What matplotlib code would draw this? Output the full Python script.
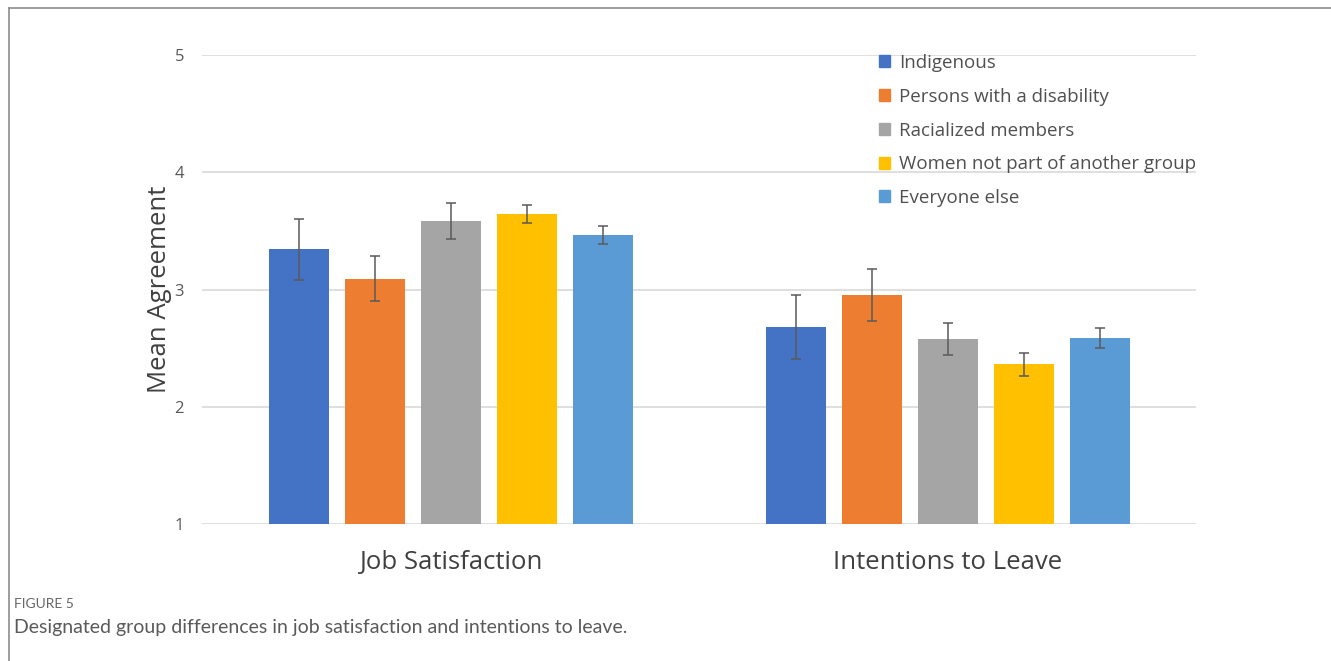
import matplotlib.pyplot as plt
import numpy as np
from matplotlib.patches import Rectangle
from matplotlib.lines import Line2D

plt.rcParams["font.family"] = ["Open Sans", "DejaVu Sans"]

categories = ["Job Satisfaction", "Intentions to Leave"]
groups = [
    "Indigenous",
    "Persons with a disability",
    "Racialized members",
    "Women not part of another group",
    "Everyone else",
]
colors = ["#4472C4", "#ED7D31", "#A5A5A5", "#FFC000", "#5B9BD5"]

# mean agreement per group, one value per category
means = {
    "Indigenous": [3.345, 2.678],
    "Persons with a disability": [3.092, 2.956],
    "Racialized members": [3.584, 2.575],
    "Women not part of another group": [3.644, 2.362],
    "Everyone else": [3.462, 2.584],
}
errors = {
    "Indigenous": [0.26, 0.275],
    "Persons with a disability": [0.19, 0.223],
    "Racialized members": [0.15, 0.137],
    "Women not part of another group": [0.077, 0.097],
    "Everyone else": [0.077, 0.085],
}

W, H = 1331, 661
fig = plt.figure(figsize=(W / 100, H / 100), dpi=100)
ax = fig.add_axes([202 / W, 1 - 524 / H, (1196 - 202) / W, (524 - 55) / H])

x = np.arange(len(categories))
step = 76 / 497
width = 60 / 497
for i, g in enumerate(groups):
    xs = x + (i - 2) * step
    # bars start at the axis floor (1)
    vals = np.array(means[g])
    ax.bar(xs, vals - 1, bottom=1, width=width, color=colors[i], label=g, zorder=2)
    ax.errorbar(xs, vals, yerr=errors[g], fmt="none", ecolor="#5a5a5a",
                elinewidth=1.1, capsize=3.5, capthick=1.1, zorder=3)

ax.set_xlim(-0.5, 1.5)
ax.set_ylim(1, 5)
ax.set_yticks([1, 2, 3, 4, 5])
ax.yaxis.grid(True, color="#d9d9d9", linewidth=1.2)
ax.set_axisbelow(True)
for s in ax.spines.values():
    s.set_visible(False)
ax.tick_params(axis="y", length=0, pad=13, labelsize=12, labelcolor="#595959")
ax.tick_params(axis="x", length=0, pad=19, labelsize=18.5, labelcolor="#404040")
ax.set_xticks(x)
ax.set_xticklabels(categories)
ax.set_ylabel("Mean Agreement", fontsize=18.5, color="#404040", labelpad=2)

handles = [Rectangle((0, 0), 1, 1, color=c) for c in colors]
ax.legend(handles, groups, loc="upper left", bbox_to_anchor=(879 / W, 1 - 54 / H),
          bbox_transform=fig.transFigure, frameon=False, fontsize=13.5,
          handlelength=0.6, handleheight=0.6, handletextpad=0.45,
          labelspacing=0.84, borderpad=0, borderaxespad=0, labelcolor="#505050")

# frame lines of the figure panel (top and left only)
fig.add_artist(Line2D([9 / W, 1], [1 - 8 / H, 1 - 8 / H], transform=fig.transFigure,
                      color="#8c8c8c", linewidth=1.2))
fig.add_artist(Line2D([9 / W, 9 / W], [0, 1 - 8 / H], transform=fig.transFigure,
                      color="#8c8c8c", linewidth=1.2))

fig.text(14 / W, 1 - 604 / H, "FIGURE 5", fontsize=10, color="#666666", va="center",
         family=["Lato", "DejaVu Sans"])
fig.text(14 / W, 1 - 628 / H, "Designated group differences in job satisfaction and intentions to leave.",
         fontsize=14, color="#5a5a5a", va="center", family=["Lato", "DejaVu Sans"])

fig.savefig("out.png", dpi=100)
